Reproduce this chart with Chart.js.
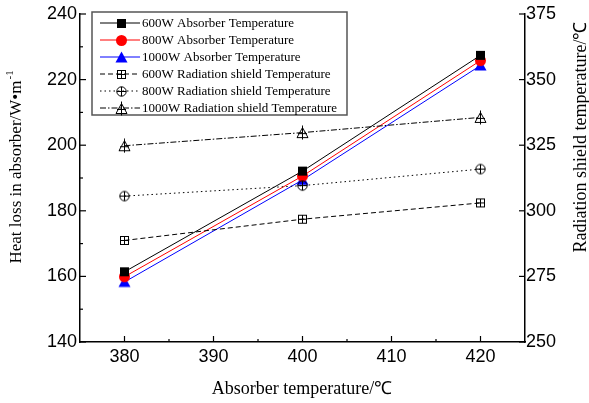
<!DOCTYPE html>
<html>
<head>
<meta charset="utf-8">
<script src="https://cdn.jsdelivr.net/npm/chart.js@4/dist/chart.umd.min.js"></script>
<style>
  html, body { margin: 0; padding: 0; background: #fff; }
</style>
</head>
<body>
<canvas id="c" width="589" height="403"></canvas>
<script>
// values
const absorberTemps = [380, 400, 420];
const absorber600 = [161.4, 192.1, 227.4];
const absorber800 = [159.9, 190.6, 225.8];
const absorber1000 = [158.3, 189.4, 224.3];
const shield600 = [288.7, 296.8, 303.0];
const shield800 = [305.6, 309.6, 315.9];
const shield1000 = [324.8, 329.8, 335.6];

const xTicks = [380, 390, 400, 410, 420];
const xMinor = [385, 395, 405, 415];
const leftTicks = [140, 160, 180, 200, 220, 240];
const leftMinor = [150, 170, 190, 210, 230];
const rightTicks = [250, 275, 300, 325, 350, 375];

const seriesNames = [
  '600W Absorber Temperature',
  '800W Absorber Temperature',
  '1000W Absorber Temperature',
  '600W Radiation shield Temperature',
  '800W Radiation shield Temperature',
  '1000W Radiation shield Temperature'
];

// marker images
function marker(kind) {
  const cv = document.createElement('canvas');
  cv.width = 15; cv.height = 15;
  const g = cv.getContext('2d');
  const c = 7.5;
  g.lineWidth = 1;
  g.strokeStyle = '#000';
  if (kind === 'square') {
    g.fillStyle = '#000';
    g.fillRect(3, 3, 9, 9);
  } else if (kind === 'circle') {
    g.fillStyle = '#ff0000';
    g.beginPath(); g.arc(c, c, 5.5, 0, Math.PI * 2); g.fill();
  } else if (kind === 'triangle') {
    g.fillStyle = '#0000ff';
    g.beginPath(); g.moveTo(c, 1.5); g.lineTo(1.5, 12.5); g.lineTo(13.5, 12.5); g.closePath(); g.fill();
  } else if (kind === 'sqplus') {
    g.strokeRect(3.5, 3.5, 8, 8);
    g.beginPath(); g.moveTo(c, 3.5); g.lineTo(c, 11.5); g.moveTo(3.5, c); g.lineTo(11.5, c); g.stroke();
  } else if (kind === 'cplus') {
    g.beginPath(); g.arc(c, c, 4.7, 0, Math.PI * 2); g.stroke();
    g.beginPath(); g.moveTo(c, 2.8); g.lineTo(c, 12.2); g.moveTo(2.8, c); g.lineTo(12.2, c); g.stroke();
  } else if (kind === 'tplus') {
    g.beginPath(); g.moveTo(c, 2.5); g.lineTo(2, 12.5); g.lineTo(13, 12.5); g.closePath(); g.stroke();
    g.beginPath(); g.moveTo(c, 0.5); g.lineTo(c, 14.5); g.moveTo(3, 8.5); g.lineTo(12, 8.5); g.stroke();
  }
  return cv;
}

const toPts = ys => absorberTemps.map((x, i) => ({ x: x, y: ys[i] }));

function series(i, ys, axis, color, dash, kind) {
  return {
    label: seriesNames[i],
    data: toPts(ys),
    yAxisID: axis,
    borderColor: color,
    borderWidth: 1,
    borderDash: dash,
    pointStyle: marker(kind),
    pointRadius: 6,
    tension: 0,
    fill: false
  };
}

const datasets = [
  series(3, shield600, 'y2', '#000', [5, 3], 'sqplus'),
  series(4, shield800, 'y2', '#000', [1.5, 3], 'cplus'),
  series(5, shield1000, 'y2', '#000', [6, 2, 1.5, 2], 'tplus'),
  series(0, absorber600, 'y', '#000', [], 'square'),
  series(1, absorber800, 'y', '#ff0000', [], 'circle'),
  series(2, absorber1000, 'y', '#0000ff', [], 'triangle')
];

const tickFont = { family: 'Liberation Sans', size: 18 };
const noGrid = { display: false, drawTicks: false, tickLength: 0 };

// inward ticks, axis titles and the boxed legend
const decorations = {
  id: 'decorations',
  afterDraw(chart) {
    const { ctx, chartArea: a, scales } = chart;
    ctx.save();
    ctx.strokeStyle = '#000';
    ctx.lineWidth = 1.2;
    const line = (x1, y1, x2, y2) => { ctx.beginPath(); ctx.moveTo(x1, y1); ctx.lineTo(x2, y2); ctx.stroke(); };
    xTicks.forEach(v => { const p = scales.x.getPixelForValue(v); line(p, a.bottom, p, a.bottom - 6); });
    xMinor.forEach(v => { const p = scales.x.getPixelForValue(v); line(p, a.bottom, p, a.bottom - 3); });
    leftTicks.forEach(v => { const p = scales.y.getPixelForValue(v); line(a.left, p, a.left + 6, p); });
    leftMinor.forEach(v => { const p = scales.y.getPixelForValue(v); line(a.left, p, a.left + 3, p); });
    rightTicks.forEach(v => { const p = scales.y2.getPixelForValue(v); line(a.right, p, a.right - 6, p); });

    // axis titles
    ctx.fillStyle = '#000';
    ctx.font = '18px "Liberation Serif"';
    ctx.textAlign = 'center';
    ctx.textBaseline = 'middle';
    ctx.fillText('Absorber temperature/\u2103', 302, 389);

    ctx.save();
    ctx.font = '17px "Liberation Serif"';
    ctx.translate(17, 168);
    ctx.rotate(-Math.PI / 2);
    const main = 'Heat loss in absorber/W\u2022m';
    const w = ctx.measureText(main).width;
    ctx.textAlign = 'left';
    ctx.fillText(main, -w / 2 - 4, 0);
    ctx.font = '11px "Liberation Serif"';
    ctx.fillText('-1', w / 2 - 3, -7);
    ctx.restore();

    ctx.save();
    ctx.font = '18px "Liberation Serif"';
    ctx.translate(581, 137);
    ctx.rotate(-Math.PI / 2);
    ctx.fillText('Radiation shield temperature/\u2103', 0, 0);
    ctx.restore();

    // legend
    ctx.fillStyle = '#fff';
    ctx.fillRect(92, 12, 255, 103);
    ctx.strokeStyle = '#555';
    ctx.lineWidth = 1.5;
    ctx.strokeRect(92, 12, 255, 103);
    const order = [3, 4, 5, 0, 1, 2];
    order.forEach((di, row) => {
      const ds = chart.data.datasets[di];
      const y = 23 + row * 17;
      ctx.strokeStyle = ds.borderColor;
      ctx.lineWidth = 1;
      ctx.setLineDash(ds.borderDash);
      line(100, y, 140, y);
      ctx.setLineDash([]);
      const img = ds.pointStyle;
      ctx.drawImage(img, 121 - Math.floor(img.width / 2), Math.round(y) - Math.floor(img.height / 2));
      ctx.fillStyle = '#000';
      ctx.font = '13px "Liberation Serif"';
      ctx.textAlign = 'left';
      ctx.textBaseline = 'middle';
      ctx.fillText(ds.label, 142, y + 1);
    });
    ctx.restore();
  }
};

new Chart(document.getElementById('c'), {
  type: 'line',
  data: { datasets: datasets },
  options: {
    responsive: false,
    animation: false,
    layout: { padding: { top: 14, left: 0, right: 0, bottom: 0 } },
    plugins: { legend: { display: false }, tooltip: { enabled: false } },
    scales: {
      x: {
        type: 'linear',
        position: 'bottom',
        min: 375,
        max: 425,
        afterBuildTicks: s => { s.ticks = xTicks.map(v => ({ value: v })); },
        afterFit: s => { s.height = 61; },
        grid: noGrid,
        border: { display: true, color: '#000', width: 1.5 },
        ticks: { font: tickFont, color: '#000', padding: 4, maxRotation: 0 }
      },
      y: {
        position: 'left',
        min: 140,
        max: 240,
        afterBuildTicks: s => { s.ticks = leftTicks.map(v => ({ value: v })); },
        afterFit: s => { s.width = 80; },
        grid: noGrid,
        border: { display: true, color: '#000', width: 1.5 },
        ticks: { font: tickFont, color: '#000', padding: 3 }
      },
      y2: {
        position: 'right',
        min: 250,
        max: 375,
        afterBuildTicks: s => { s.ticks = rightTicks.map(v => ({ value: v })); },
        afterFit: s => { s.width = 64; },
        grid: noGrid,
        border: { display: true, color: '#000', width: 1.5 },
        ticks: { font: tickFont, color: '#000', padding: 1 }
      }
    }
  },
  plugins: [decorations]
});
</script>
</body>
</html>
